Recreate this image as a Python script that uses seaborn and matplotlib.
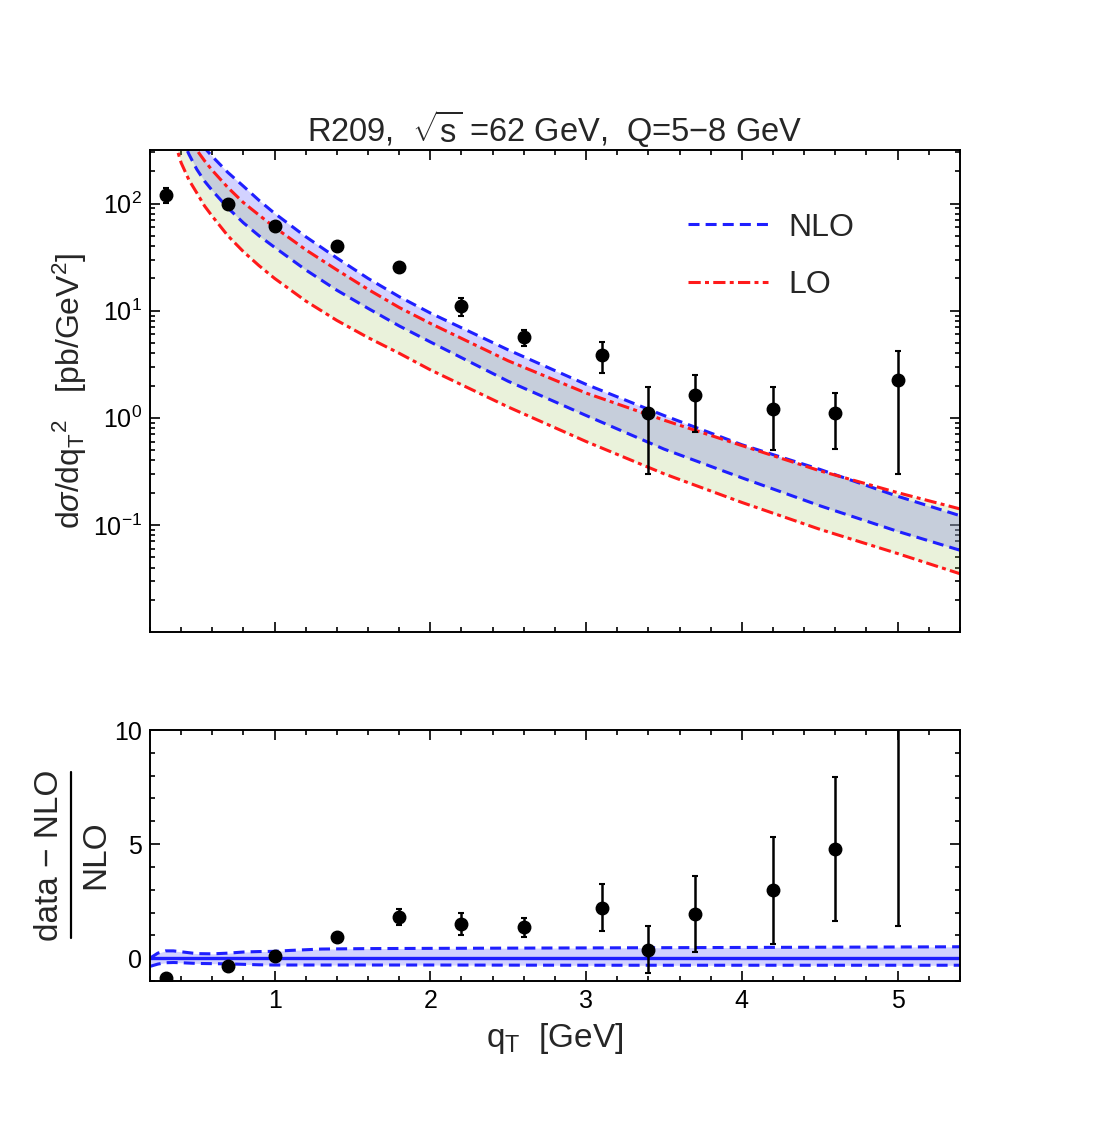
import numpy as np
import pandas as pd
import seaborn as sns
import matplotlib
matplotlib.use("Agg")
import matplotlib.pyplot as plt
from matplotlib.lines import Line2D
from matplotlib.ticker import MultipleLocator, LogLocator, NullFormatter

# data points (R209)
qt = [0.3, 0.7, 1.0, 1.4, 1.8, 2.2, 2.6, 3.1, 3.4, 3.7, 4.2, 4.6, 5.0]
xsec = [121, 100, 62, 39.8, 25.4, 11.0, 5.65, 3.85, 1.11, 1.63, 1.21, 1.11, 2.25]
xsec_err = [20, 4, 3, 2, 2, 2.1, 0.95, 1.25, 0.81, 0.9, 0.71, 0.6, 1.95]

ratio = [-0.89, -0.35, 0.09, 0.94, 1.81, 1.49, 1.35, 2.22, 0.38, 1.93, 2.98, 4.78, 17.4]
ratio_err = [0.02, 0.04, 0.05, 0.05, 0.35, 0.47, 0.40, 1.03, 1.01, 1.66, 2.34, 3.14, 16.0]

# theory bands
q_curve = [0.35, 0.4, 0.45, 0.5, 0.55, 0.6, 0.7, 0.8, 0.9, 1.0, 1.2, 1.4, 1.6,
           1.8, 2.0, 2.5, 3.0, 3.5, 4.0, 4.5, 5.0, 5.4]
nlo_hi = [851, 646, 501, 398, 331, 275, 195, 145, 107, 81, 49, 31, 20,
          13.5, 9.5, 4.3, 2.05, 1.05, 0.56, 0.33, 0.185, 0.122]
nlo_lo = [603, 417, 288, 209, 162, 132, 91, 66, 50, 39, 24, 15.5, 10.5,
          7.2, 5.1, 2.19, 1.05, 0.51, 0.275, 0.151, 0.087, 0.058]
lo_hi = [759, 575, 427, 316, 251, 204, 141, 102, 78, 60, 37, 24, 15.8,
         10.7, 7.6, 3.4, 1.70, 0.95, 0.55, 0.32, 0.20, 0.141]
lo_lo = [417, 240, 166, 126, 95, 76, 50, 35.5, 26.3, 20, 12.3, 8.1, 5.6,
         4.0, 2.8, 1.26, 0.60, 0.30, 0.162, 0.091, 0.054, 0.035]

# relative NLO band for lower panel
q_band = [0.2, 0.25, 0.3, 0.35, 0.4, 0.5, 0.6, 0.7, 0.8, 0.9, 1.0, 1.1, 1.3,
          1.6, 2.0, 3.0, 4.0, 5.0, 5.4]
band_hi = [0.0, 0.22, 0.32, 0.32, 0.28, 0.20, 0.19, 0.22, 0.27, 0.29, 0.30,
           0.34, 0.40, 0.42, 0.43, 0.45, 0.47, 0.49, 0.50]
band_lo = [-0.36, -0.26, -0.20, -0.19, -0.20, -0.23, -0.24, -0.25, -0.27,
           -0.29, -0.30, -0.30, -0.30, -0.30, -0.30, -0.31, -0.31, -0.31, -0.31]

sns.set_theme(style="ticks")
plt.rcParams["font.family"] = ["Liberation Sans", "DejaVu Sans"]
plt.rcParams["mathtext.fontset"] = "custom"
plt.rcParams["mathtext.rm"] = "Liberation Sans"
plt.rcParams["mathtext.it"] = "Liberation Sans:italic"
plt.rcParams["mathtext.bf"] = "Liberation Sans:bold"

NLO_DASH = (0, (3.6, 2.0))
LO_DASH = (0, (4.0, 1.4, 1.3, 1.4))
LW = 2.2

fig = plt.figure(figsize=(11.11, 11.32), dpi=100)
ax1 = fig.add_axes([0.135, 0.4417, 0.729, 0.4258])
ax2 = fig.add_axes([0.135, 0.1334, 0.729, 0.2217])

curves = pd.DataFrame({"qt": q_curve, "nlo_hi": nlo_hi, "nlo_lo": nlo_lo,
                       "lo_hi": lo_hi, "lo_lo": lo_lo})

# top panel
ax1.set_yscale("log")
ax1.fill_between(curves.qt, curves.nlo_lo, curves.nlo_hi, color=(0.5, 0.5, 1.0),
                 alpha=0.35, lw=0)
ax1.fill_between(curves.qt, curves.lo_lo, curves.lo_hi, color=(0.6, 0.75, 0.3),
                 alpha=0.2, lw=0)
sns.lineplot(data=curves, x="qt", y="nlo_hi", ax=ax1, color="#1f1fff", lw=LW,
             linestyle=NLO_DASH, label="NLO")
sns.lineplot(data=curves, x="qt", y="nlo_lo", ax=ax1, color="#1f1fff", lw=LW,
             linestyle=NLO_DASH)
sns.lineplot(data=curves, x="qt", y="lo_hi", ax=ax1, color="#ff1a1a", lw=LW,
             linestyle=LO_DASH, label="LO")
sns.lineplot(data=curves, x="qt", y="lo_lo", ax=ax1, color="#ff1a1a", lw=LW,
             linestyle=LO_DASH)
ax1.errorbar(qt, xsec, yerr=xsec_err, fmt="o", color="black", ms=9,
             elinewidth=1.8, capsize=2.5, capthick=1.5, zorder=5)

ax1.set_xlim(0.2, 5.4)
ax1.set_ylim(0.01, 316)
ax1.set_yticks([0.1, 1, 10, 100])
ax1.set_yticklabels([r"$10^{-1}$", r"$10^{0}$", r"$10^{1}$", r"$10^{2}$"])
ax1.yaxis.set_minor_locator(LogLocator(base=10, subs=np.arange(2, 10)))
ax1.yaxis.set_minor_formatter(NullFormatter())
ax1.xaxis.set_major_locator(MultipleLocator(1))
ax1.xaxis.set_minor_locator(MultipleLocator(0.2))
ax1.tick_params(labelbottom=False)
ax1.set_xlabel("")
ax1.set_ylabel(r"d$\sigma$/dq$_\mathrm{T}$$^2$   [pb/GeV$^2$]", fontsize=23)
ax1.yaxis.set_label_coords(-0.075, 0.5)
ax1.set_title(r"R209,  $\sqrt{\mathrm{s}}$ =62 GeV,  Q=5$-$8 GeV", fontsize=23.5, pad=6)
ax1.legend(loc="upper left", bbox_to_anchor=(0.664, 0.87), frameon=False,
           fontsize=23, handlelength=2.5, handletextpad=0.65, labelspacing=0.85,
           borderpad=0, borderaxespad=0)

# bottom panel
ax2.fill_between(q_band, band_lo, band_hi, color=(0.5, 0.5, 1.0), alpha=0.35, lw=0)
ax2.plot(q_band, band_hi, color="#1f1fff", lw=LW, linestyle=NLO_DASH)
ax2.plot(q_band, band_lo, color="#1f1fff", lw=LW, linestyle=NLO_DASH)
ax2.axhline(0, color="#1f1fff", lw=2.4)
ax2.errorbar(qt, ratio, yerr=ratio_err, fmt="o", color="black", ms=9,
             elinewidth=1.8, capsize=2.5, capthick=1.5, zorder=5)
ax2.set_xlim(0.2, 5.4)
ax2.set_ylim(-1, 10)
ax2.set_yticks([0, 5, 10])
ax2.yaxis.set_minor_locator(MultipleLocator(1))
ax2.xaxis.set_major_locator(MultipleLocator(1))
ax2.xaxis.set_minor_locator(MultipleLocator(0.2))
ax2.set_xlabel(r"q$_\mathrm{T}$  [GeV]", fontsize=24)
ax2.xaxis.set_label_coords(0.5, -0.16)

# fraction-style y label: numerator, bar, denominator
W, H = 1111, 1132
fig.text(50 / W, 1 - 855 / H, "data \u2212 NLO", rotation=90, fontsize=24,
         ha="center", va="center")
fig.text(96 / W, 1 - 855 / H, "NLO", rotation=90, fontsize=24,
         ha="center", va="center")
fig.add_artist(Line2D([71 / W, 71 / W], [1 - 772 / H, 1 - 938 / H],
                      transform=fig.transFigure, color="black", lw=1.6))

for ax in (ax1, ax2):
    ax.tick_params(which="both", direction="in", top=True, right=True,
                   labelsize=18, width=1.2, colors="black")
    ax.tick_params(which="major", length=7, pad=6)
    ax.tick_params(which="minor", length=3.5)
    for sp in ax.spines.values():
        sp.set_linewidth(1.4)
        sp.set_color("black")

fig.savefig("out.png", dpi=100, facecolor="white")
